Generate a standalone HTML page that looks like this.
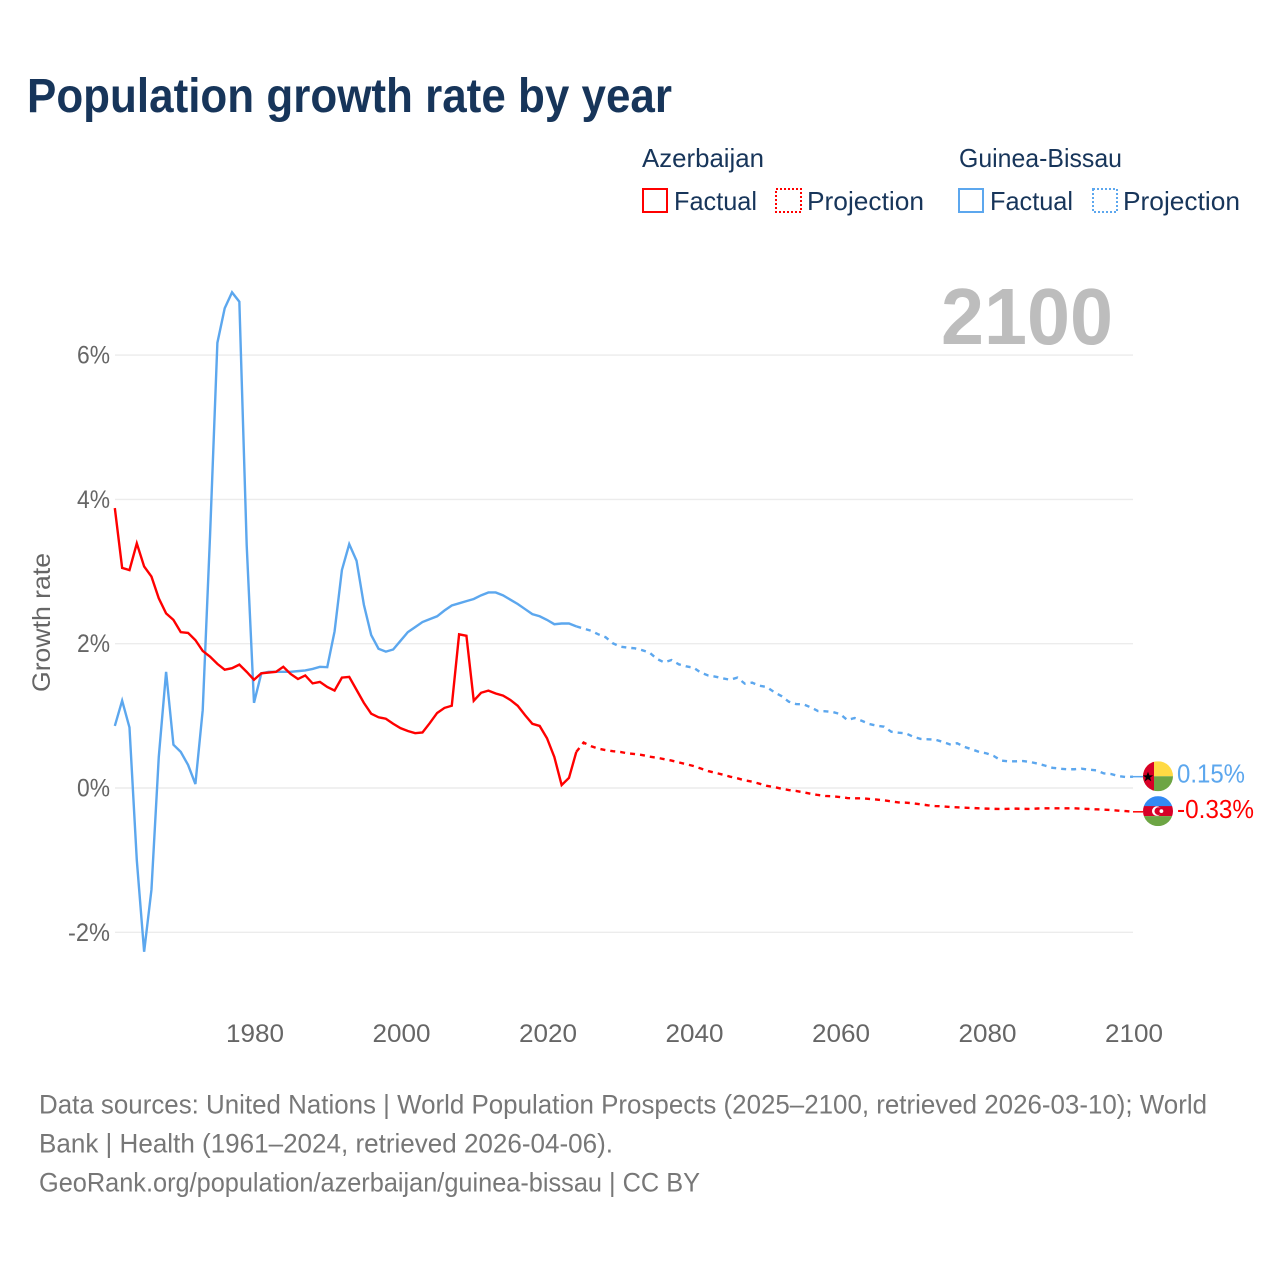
<!DOCTYPE html>
<html lang="en">
<head>
<meta charset="utf-8">
<title>Population growth rate by year</title>
<style>
html,body{margin:0;padding:0;background:#fff;width:1280px;height:1280px;overflow:hidden}
svg{display:block}
text{font-family:"Liberation Sans",sans-serif}
</style>
</head>
<body>
<svg id="chart" width="1280" height="1280" viewBox="0 0 1280 1280" xmlns="http://www.w3.org/2000/svg">
  <defs>
    <clipPath id="flag-clip-top"><circle cx="0" cy="0" r="15"/></clipPath>
  </defs>
  <text x="27" y="112" font-size="48" font-weight="700" fill="#17355a" textLength="645" lengthAdjust="spacingAndGlyphs">Population growth rate by year</text>

  <g font-size="26" fill="#17355a">
    <g>
      <text x="642" y="167" textLength="122" lengthAdjust="spacingAndGlyphs">Azerbaijan</text>
      <rect x="643" y="189" width="24" height="23" fill="none" stroke="#ff0000" stroke-width="2"/>
      <text x="674" y="210" textLength="83" lengthAdjust="spacingAndGlyphs">Factual</text>
      <rect x="776" y="189" width="25" height="23" fill="none" stroke="#ff0000" stroke-width="2" stroke-dasharray="2 2"/>
      <text x="807" y="210" textLength="117" lengthAdjust="spacingAndGlyphs">Projection</text>
    </g>
    <g>
      <text x="959" y="167" textLength="163" lengthAdjust="spacingAndGlyphs">Guinea-Bissau</text>
      <rect x="959" y="189" width="24" height="23" fill="none" stroke="#5ca7ee" stroke-width="2"/>
      <text x="990" y="210" textLength="83" lengthAdjust="spacingAndGlyphs">Factual</text>
      <rect x="1093" y="189" width="24" height="23" fill="none" stroke="#5ca7ee" stroke-width="2" stroke-dasharray="2 2"/>
      <text x="1123" y="210" textLength="117" lengthAdjust="spacingAndGlyphs">Projection</text>
    </g>
  </g>

  <text x="941" y="344" font-size="80" font-weight="700" fill="#bdbdbd" textLength="172" lengthAdjust="spacingAndGlyphs">2100</text>
  <text transform="translate(50 692) rotate(-90)" font-size="25" fill="#666" textLength="139" lengthAdjust="spacingAndGlyphs">Growth rate</text>

  <g id="grid"></g>
  <g id="yticks"></g>
  <g id="xticks"></g>
  <g id="series"></g>
  <g id="ends"></g>

  <g font-size="26.5" fill="#777">
    <text x="39" y="1113.5" textLength="1168" lengthAdjust="spacingAndGlyphs">Data sources: United Nations | World Population Prospects (2025–2100, retrieved 2026-03-10); World</text>
    <text x="39" y="1152.5" textLength="574" lengthAdjust="spacingAndGlyphs">Bank | Health (1961–2024, retrieved 2026-04-06).</text>
    <text x="39" y="1191.5" textLength="661" lengthAdjust="spacingAndGlyphs">GeoRank.org/population/azerbaijan/guinea-bissau | CC BY</text>
  </g>
</svg>
<script>
// Data (percent per year)
const firstFactualYear = 1961;
const firstProjectionYear = 2024;
const xTickYears = [1980, 2000, 2020, 2040, 2060, 2080, 2100];
const yTickValues = [-2, 0, 2, 4, 6];
const azerbaijanFactual = [3.88,3.05,3.02,3.39,3.07,2.93,2.63,2.42,2.33,2.16,2.15,2.05,1.90,1.82,1.72,1.64,1.66,1.71,1.61,1.50,1.59,1.60,1.61,1.68,1.58,1.51,1.56,1.45,1.47,1.40,1.35,1.53,1.54,1.36,1.18,1.03,0.98,0.96,0.89,0.83,0.79,0.76,0.77,0.90,1.04,1.11,1.14,2.13,2.11,1.21,1.32,1.35,1.31,1.28,1.22,1.14,1.01,0.89,0.86,0.69,0.43,0.04,0.14,0.50];
const azerbaijanProjection = [0.50,0.63,0.58,0.545,0.525,0.51,0.50,0.48,0.47,0.457,0.435,0.42,0.40,0.38,0.355,0.33,0.305,0.27,0.235,0.21,0.185,0.157,0.134,0.106,0.088,0.06,0.03,0.014,-0.01,-0.028,-0.04,-0.06,-0.08,-0.097,-0.11,-0.115,-0.125,-0.139,-0.143,-0.143,-0.152,-0.16,-0.171,-0.185,-0.2,-0.203,-0.212,-0.226,-0.24,-0.25,-0.254,-0.263,-0.268,-0.273,-0.277,-0.282,-0.286,-0.289,-0.291,-0.289,-0.286,-0.289,-0.29,-0.284,-0.282,-0.282,-0.282,-0.282,-0.282,-0.286,-0.291,-0.296,-0.3,-0.305,-0.314,-0.32,-0.33];
const guineaBissauFactual = [0.86,1.21,0.84,-1.0,-2.27,-1.41,0.43,1.61,0.60,0.50,0.32,0.055,1.08,3.5,6.17,6.65,6.87,6.74,3.37,1.18,1.59,1.61,1.61,1.61,1.61,1.62,1.63,1.65,1.68,1.675,2.17,3.02,3.38,3.15,2.54,2.12,1.93,1.89,1.92,2.04,2.16,2.23,2.30,2.34,2.38,2.46,2.53,2.56,2.59,2.62,2.67,2.71,2.71,2.67,2.61,2.55,2.48,2.41,2.38,2.33,2.27,2.28,2.28,2.24];
const guineaBissauProjection = [2.24,2.21,2.18,2.13,2.09,2.005,1.96,1.945,1.936,1.91,1.876,1.79,1.74,1.774,1.714,1.686,1.668,1.60,1.56,1.543,1.52,1.50,1.53,1.446,1.46,1.418,1.40,1.33,1.275,1.197,1.164,1.16,1.118,1.067,1.063,1.053,1.026,0.942,0.97,0.93,0.887,0.864,0.85,0.78,0.767,0.758,0.71,0.68,0.675,0.67,0.64,0.605,0.62,0.57,0.536,0.50,0.48,0.443,0.38,0.37,0.37,0.374,0.36,0.337,0.31,0.28,0.268,0.26,0.26,0.268,0.254,0.245,0.203,0.194,0.166,0.152,0.157];
const guineaBissauEndLabel = "0.15%";
const azerbaijanEndLabel = "-0.33%";

const NS = "http://www.w3.org/2000/svg";
const xScale = year => 255 + (year - 1980) * 7.325;
const xLine = year => xScale(year) - 1;
const yScale = value => 788 - value * 72.15;
function make(tag, attrs, parent) {
  const el = document.createElementNS(NS, tag);
  for (const k in attrs) el.setAttribute(k, attrs[k]);
  parent.appendChild(el);
  return el;
}
function linePath(values, startYear) {
  return values.map((v, i) => (i ? "L" : "M") + xLine(startYear + i).toFixed(2) + " " + yScale(v).toFixed(2)).join("");
}

const grid = document.getElementById("grid");
const yticks = document.getElementById("yticks");
const xticks = document.getElementById("xticks");
const series = document.getElementById("series");
const ends = document.getElementById("ends");

yTickValues.forEach(v => {
  const line = make("line", {x1: 115, x2: 1133, y1: yScale(v), y2: yScale(v), stroke: "#ececec", "stroke-width": 1.4}, grid);
  
  
  const t = make("text", {x: 110, y: yScale(v) + 8.5, "text-anchor": "end", "font-size": 25, fill: "#666", textLength: v < 0 ? 42 : 33, lengthAdjust: "spacingAndGlyphs"}, yticks);
  t.textContent = v + "%";
  
  
});

xTickYears.forEach(y => {
  const t = make("text", {x: xScale(y), y: 1042, "text-anchor": "middle", "font-size": 25, fill: "#666", textLength: 58, lengthAdjust: "spacingAndGlyphs"}, xticks);
  t.textContent = y;
  
  
});

const BLUE = "#5ca7ee", RED = "#ff0000";

const blueFactual = make("path", {d: linePath(guineaBissauFactual, firstFactualYear), fill: "none", stroke: BLUE, "stroke-width": 2.4, "stroke-linejoin": "miter"}, series);


const blueProj = make("path", {d: linePath(guineaBissauProjection, firstProjectionYear), fill: "none", stroke: BLUE, "stroke-width": 2.4, "stroke-dasharray": "5 5"}, series);


const redFactual = make("path", {d: linePath(azerbaijanFactual, firstFactualYear), fill: "none", stroke: RED, "stroke-width": 2.4, "stroke-linejoin": "miter"}, series);


const redProj = make("path", {d: linePath(azerbaijanProjection, firstProjectionYear), fill: "none", stroke: RED, "stroke-width": 2.4, "stroke-dasharray": "5 5"}, series);



const lastYear = 2100;
const blueEndY = yScale(guineaBissauProjection[guineaBissauProjection.length - 1]);
const redEndY = yScale(azerbaijanProjection[azerbaijanProjection.length - 1]);

const blueConn = make("line", {x1: xLine(lastYear), x2: xLine(lastYear) + 10, y1: blueEndY, y2: blueEndY, stroke: BLUE, "stroke-width": 1.5}, ends);


const redConn = make("line", {x1: xLine(lastYear), x2: xLine(lastYear) + 10, y1: redEndY, y2: redEndY, stroke: RED, "stroke-width": 1.5}, ends);



// Guinea-Bissau flag
const gw = make("g", {transform: "translate(1158 " + (blueEndY - 0.4) + ")", "clip-path": "url(#flag-clip-top)"}, ends);


make("rect", {x: -15, y: -15, width: 30, height: 15, fill: "#ffda44"}, gw);
make("rect", {x: -15, y: 0, width: 30, height: 15, fill: "#6da544"}, gw);
make("rect", {x: -15, y: -15, width: 11, height: 30, fill: "#d80027"}, gw);
make("polygon", {points: "-10,-4.5 -8.6,-0.9 -4.8,-0.9 -7.9,1.4 -6.7,5 -10,2.8 -13.3,5 -12.1,1.4 -15.2,-0.9 -11.4,-0.9", fill: "#000"}, gw);

// Azerbaijan flag
const az = make("g", {transform: "translate(1158 " + (redEndY - 0.7) + ")", "clip-path": "url(#flag-clip-top)"}, ends);


make("rect", {x: -15, y: -15, width: 30, height: 10.5, fill: "#338af3"}, az);
make("rect", {x: -15, y: -5, width: 30, height: 10, fill: "#d80027"}, az);
make("rect", {x: -15, y: 5, width: 30, height: 10, fill: "#6da544"}, az);
make("circle", {cx: -1.2, cy: 0, r: 4.8, fill: "#fff"}, az);
make("circle", {cx: 0.4, cy: 0, r: 3.9, fill: "#d80027"}, az);
make("circle", {cx: 3.4, cy: 0, r: 1.9, fill: "#fff"}, az);

const blueLabel = make("text", {x: 1177, y: blueEndY + 6, "font-size": 26, fill: BLUE, textLength: 68, lengthAdjust: "spacingAndGlyphs"}, ends);
blueLabel.textContent = guineaBissauEndLabel;


const redLabel = make("text", {x: 1177, y: redEndY + 6, "font-size": 26, fill: RED, textLength: 77, lengthAdjust: "spacingAndGlyphs"}, ends);
redLabel.textContent = azerbaijanEndLabel;


</script>
</body>
</html>
